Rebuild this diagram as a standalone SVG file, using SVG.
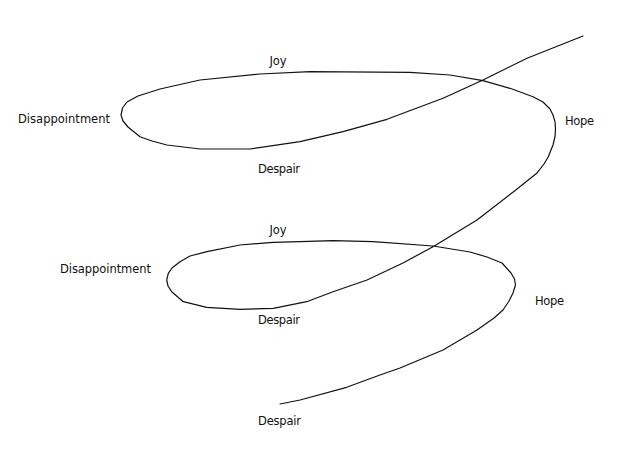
<svg xmlns="http://www.w3.org/2000/svg" width="628" height="450" viewBox="0 0 628 450">
<style>
.lbl{font-family:"DejaVu Sans","Liberation Sans",sans-serif;font-size:11.5px;fill:#111;}
.curve{fill:none;stroke:#111;stroke-width:1.2;stroke-linejoin:round;stroke-linecap:round;}
</style>
<rect width="628" height="450" fill="#fff"/>
<g id="connectors">
<polyline class="curve" points="280,404 300,400 346.7,387.3 380,375 400,368 443,350 477,330 494,318 503,310 509,301 513,293 515.5,285 514.5,279 511,273 502,263 487,257 470,252 433,246 373,241.7 333,240.7 300,241.7 273,242.3 240,245 207,251.7 190,256 180,261.7 172,268 168.3,273.3 166.7,280 168,286 171.7,291.7 183.3,301.7 206.7,307.3 240,309.3 273.3,308.3 306.7,301.7 333,291.7 367,280 403,263 433,246.7 477,220 516.7,189.3 536.7,173.3 544,164 548.3,156.7 553,145 555,136.7 555.5,129 555,121.7 553,115 550,109 543,102 533,96.7 510,88.3 483,80.7 450,75 410,72.3 310,71.7 260,74 200,80 160,89 138,96 127,102 122.5,108 121,115 123,121 128,127 140,136.7 152,141 167,145 200,149 250,149 300,141.7 343,131.7 387,119.3 443,98.3 483,80 527,58.3 583,36"/>
</g>
<g id="joy1"><text class="lbl" x="278" y="65" text-anchor="middle">Joy</text></g>
<g id="disappointment1"><text class="lbl" x="18" y="123" textLength="92">Disappointment</text></g>
<g id="despair1"><text class="lbl" x="258" y="173" textLength="42">Despair</text></g>
<g id="hope1"><text class="lbl" x="565" y="125" textLength="29">Hope</text></g>
<g id="joy2"><text class="lbl" x="278" y="234" text-anchor="middle">Joy</text></g>
<g id="disappointment2"><text class="lbl" x="60" y="273" textLength="91">Disappointment</text></g>
<g id="despair2"><text class="lbl" x="258" y="324" textLength="42">Despair</text></g>
<g id="hope2"><text class="lbl" x="535" y="305" textLength="29">Hope</text></g>
<g id="despair3"><text class="lbl" x="258" y="425" textLength="43">Despair</text></g>
</svg>
